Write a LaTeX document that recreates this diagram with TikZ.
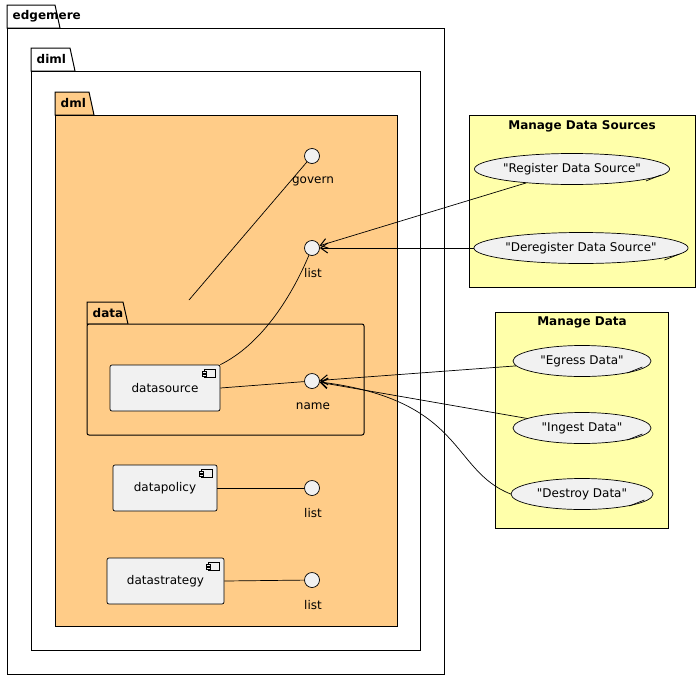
\documentclass[tikz,border=0pt]{standalone}
\usepackage{fontspec}
\setmainfont{DejaVu Sans}[Ligatures=TeXOff]
\usetikzlibrary{shapes.geometric,calc,arrows.meta}

\definecolor{pkgorange}{HTML}{FFCC88}
\definecolor{boxyellow}{HTML}{FFFFAA}
\definecolor{ucgray}{HTML}{F1F1F1}
\tikzset{
  every path/.style={line width=0.7pt},
  pkg/.style={draw, line width=1pt, fill=white},
  iface/.style={circle, draw, fill=ucgray, minimum size=15pt, inner sep=0pt},
  comp/.style={draw, rounded corners=2pt, fill=ucgray, font=\fontsize{12}{14}\selectfont},
  usecase/.style={ellipse, draw, fill=ucgray, inner sep=0pt, minimum height=31pt, font=\fontsize{12}{14}\selectfont},
  lbl/.style={font=\fontsize{12}{14}\selectfont},
  title/.style={font=\bfseries\fontsize{12}{14}\selectfont},
  uses/.style={-{Straight Barb[length=7pt,width=10pt,line width=1pt]}},
}
\newcommand{\q}{\symbol{34}}
\newcommand{\bslash}[1]{\draw ($(#1.east)+(-24,12)$) -- ($(#1.east)+(-9,6)$);}
\newcommand{\cicon}[1]{%
  \draw[fill=ucgray] ($(#1.north east)+(-16,5)$) rectangle ($(#1.north east)+(-5,13)$);
  \draw[fill=ucgray] ($(#1.north east)+(-18,7)$) rectangle ($(#1.north east)+(-14,9)$);
  \draw[fill=ucgray] ($(#1.north east)+(-18,10)$) rectangle ($(#1.north east)+(-14,12)$);}

\begin{document}
\begin{tikzpicture}[x=1pt, y=-1pt]
  \useasboundingbox (0,0) rectangle (700,680);

  % packages
  \draw[pkg] (7,5) -- (55,5) -- (60,28) -- (7,28) -- cycle;
  \draw[pkg] (7,28) rectangle (444,674);
  \node[title, anchor=west] (edgemere) at (9,16) {edgemere};
  \draw[pkg] (31,48) -- (70,48) -- (75,71) -- (31,71) -- cycle;
  \draw[pkg] (31,71) rectangle (420,650);
  \node[title, anchor=west] (diml) at (33,59) {diml};
  \draw[pkg, fill=pkgorange] (55,92) -- (89,92) -- (94,115) -- (55,115) -- cycle;
  \draw[pkg, fill=pkgorange] (55,115) rectangle (397,626);
  \node[title, anchor=west] (dml) at (57,103) {dml};
  \draw[pkg, fill=pkgorange] (87,302) -- (123,302) -- (128,324) -- (87,324) -- cycle;
  \draw[pkg, fill=pkgorange, rounded corners=2pt] (87,324) rectangle (364,435);
  \node[title, anchor=west] (data) at (89,313) {data};
  \coordinate (dataTop) at (189,300);

  % interfaces
  \node[iface] (govern) at (312,156) {};
  \node[lbl] at (313,181) {govern};
  \node[iface] (list1) at (312,248) {};
  \node[lbl] at (313,273) {list};
  \node[iface] (name) at (312,381) {};
  \node[lbl] at (313,406) {name};
  \node[iface] (list2) at (312,488) {};
  \node[lbl] at (313,513) {list};
  \node[iface] (list3) at (312,580) {};
  \node[lbl] at (313,605) {list};

  % components
  \node[comp, minimum width=110pt, minimum height=46pt] (datasource) at (165,388) {datasource};
  \cicon{datasource}
  \node[comp, minimum width=104pt, minimum height=46pt] (datapolicy) at (165,488) {datapolicy};
  \cicon{datapolicy}
  \node[comp, minimum width=117pt, minimum height=46pt] (datastrategy) at (165.5,581) {datastrategy};
  \cicon{datastrategy}

  \draw (dataTop) -- (govern);
  \draw (datasource.north east) .. controls (260,345) and (290,300) .. (list1);
  \draw (datasource.east) -- (name);
  \draw (datapolicy.east) -- (list2);
  \draw (datastrategy.east) -- (list3);

  % use case boxes
  \draw[fill=boxyellow] (469,115) rectangle (695,287);
  \node[title] (mds) at (582,126) {Manage Data Sources};
  \node[usecase, minimum width=166pt] (register) at (572,169) {\q Register Data Source\q};
  \bslash{register}
  \node[usecase, minimum width=196pt] (deregister) at (581,248) {\q Deregister Data Source\q};
  \bslash{deregister}

  \draw[fill=boxyellow] (495,312) rectangle (668,528);
  \node[title] (md) at (582,322) {Manage Data};
  \node[usecase, minimum width=138pt] (egress) at (582,361) {\q Egress Data\q};
  \bslash{egress}
  \node[usecase, minimum width=138pt] (ingest) at (582,428) {\q Ingest Data\q};
  \bslash{ingest}
  \node[usecase, minimum width=142pt] (destroy) at (582,494) {\q Destroy Data\q};
  \bslash{destroy}

  \draw[uses] (register) -- (list1);
  \draw[uses] (deregister) -- (list1);
  \draw[uses] (egress) -- (name);
  \draw[uses] (ingest) -- (name);
  \draw[uses] (destroy.west) .. controls (450,470) and (465,400) .. (name);
\end{tikzpicture}
\end{document}
